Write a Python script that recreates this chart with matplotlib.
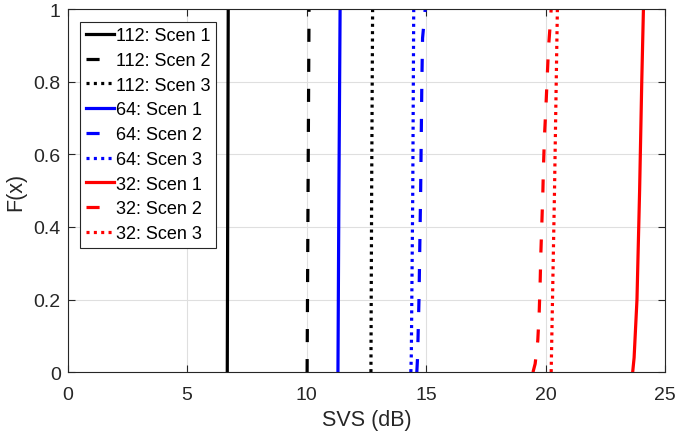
import matplotlib
matplotlib.use("Agg")
import matplotlib.pyplot as plt
from matplotlib.ticker import FuncFormatter

# -----------------------------
# Data (CDF of SVS, x in dB at given F levels)
# -----------------------------
F_112_S1 = [0.0, 0.5, 1.0]
X_112_S1 = [6.68, 6.70, 6.72]
F_112_S2 = [0.0, 0.5, 1.0]
X_112_S2 = [10.02, 10.06, 10.10]
F_112_S3 = [0.0, 0.5, 1.0]
X_112_S3 = [12.69, 12.72, 12.76]

F_64_S1 = [0.0, 0.5, 1.0]
X_64_S1 = [11.31, 11.35, 11.40]
F_64_S2 = [0.0, 0.04, 0.2, 0.5, 0.8, 0.92, 1.0]
X_64_S2 = [14.61, 14.64, 14.70, 14.77, 14.82, 14.85, 14.96]
F_64_S3 = [0.0, 0.05, 0.5, 1.0]
X_64_S3 = [14.36, 14.38, 14.44, 14.48]

F_32_S1 = [0.0, 0.04, 0.2, 0.5, 0.8, 1.0]
X_32_S1 = [23.64, 23.70, 23.82, 23.93, 24.02, 24.09]
F_32_S2 = [0.0, 0.023, 0.087, 0.166, 0.25, 0.33, 0.41, 0.49, 0.57, 0.65, 0.73, 0.895, 0.967, 1.0]
X_32_S2 = [19.47, 19.56, 19.67, 19.73, 19.77, 19.80, 19.84, 19.88, 19.91, 19.95, 20.01, 20.12, 20.20, 20.23]
F_32_S3 = [0.0, 0.5, 1.0]
X_32_S3 = [20.23, 20.37, 20.49]

LABELS = ["112: Scen 1", "112: Scen 2", "112: Scen 3",
          "64: Scen 1", "64: Scen 2", "64: Scen 3",
          "32: Scen 1", "32: Scen 2", "32: Scen 3"]

# -----------------------------
# Style
# -----------------------------
plt.rcParams["font.family"] = ["Liberation Sans", "DejaVu Sans"]
AX_COLOR = "#262626"
LW = 2.3
DASH = (4.1, 5.3)
DOT = (0.95, 1.35)

series = [
    (X_112_S1, F_112_S1, "k", None),
    (X_112_S2, F_112_S2, "k", DASH),
    (X_112_S3, F_112_S3, "k", DOT),
    (X_64_S1, F_64_S1, "#0000ff", None),
    (X_64_S2, F_64_S2, "#0000ff", DASH),
    (X_64_S3, F_64_S3, "#0000ff", DOT),
    (X_32_S1, F_32_S1, "#ff0000", None),
    (X_32_S2, F_32_S2, "#ff0000", DASH),
    (X_32_S3, F_32_S3, "#ff0000", DOT),
]

fig = plt.figure(figsize=(6.76, 4.39), dpi=100)
ax = fig.add_axes([0.1, 0.15, 0.884, 0.827])

for (xs, fs, col, dash), lab in zip(series, LABELS):
    line, = ax.plot(xs, fs, color=col, lw=LW, label=lab)
    if dash is not None:
        line.set_dashes(dash)

ax.set_xlim(0, 25)
ax.set_ylim(0, 1)
ax.set_xticks([0, 5, 10, 15, 20, 25])
ax.set_yticks([0, 0.2, 0.4, 0.6, 0.8, 1.0])
ax.yaxis.set_major_formatter(FuncFormatter(lambda v, p: f"{v:g}"))
ax.grid(True, color="#dfdfdf", lw=0.8)
ax.set_axisbelow(True)

ax.tick_params(direction="in", top=True, right=True, labelsize=14,
               colors=AX_COLOR, length=5, width=0.8)
ax.tick_params(axis="x", pad=10)
ax.tick_params(axis="y", pad=5)
for s in ax.spines.values():
    s.set_color(AX_COLOR)
    s.set_linewidth(0.8)

ax.set_xlabel("SVS (dB)", fontsize=15.5, color=AX_COLOR, labelpad=4)
ax.set_ylabel("F(x)", fontsize=15.5, color=AX_COLOR, labelpad=5)

leg = ax.legend(loc="upper left", fontsize=13, handlelength=1.55,
                handletextpad=0.15, labelspacing=0.43, borderpad=0.3,
                borderaxespad=0.7, fancybox=False, framealpha=1)
leg.get_frame().set_edgecolor("#262626")
leg.get_frame().set_linewidth(0.8)

fig.savefig("out.png", dpi=100)
